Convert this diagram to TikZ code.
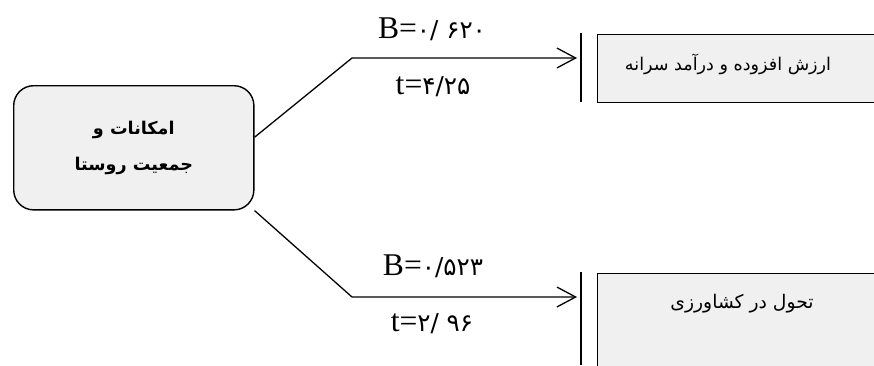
\documentclass[tikz,border=0pt]{standalone}
\usepackage{fontspec}
\setmainfont{Liberation Serif}
\newfontfamily\farsi[Script=Arabic]{DejaVu Sans}
\newfontfamily\fadigits{DejaVu Sans}
\TeXXeTstate=1
\usetikzlibrary{arrows.meta}
\newcommand{\fanum}[1]{{\fontsize{21}{24}\fadigits #1}}

\begin{document}
\begin{tikzpicture}[x=0.03cm, y=0.03cm]
\tikzstyle{every node}+=[inner sep=0pt]
\tikzstyle{srcbox}=[draw=black, line width=1.2pt, fill=gray!12, rounded corners=17pt, minimum width=205pt, minimum height=106pt, align=center, font=\fontsize{15}{30.7}\selectfont\farsi\bfseries]
\tikzstyle{outbox}=[draw=black, line width=1.2pt, fill=gray!12, minimum width=260pt]
\tikzstyle{link}=[draw=black, line width=1.1pt, -{Straight Barb[length=16pt,width=17pt,line width=1.1pt]}]
\tikzstyle{coef}=[font=\fontsize{27}{30}\selectfont]
\clip (0,0) rectangle (874,-365);
\node [srcbox, anchor=north west] (src) at (13,-85) {\beginR امکانات و\endR\\\beginR جمعیت روستا\endR};
\node [outbox, anchor=north west, minimum height=58pt] (val) at (597,-34) {};
\node (valtext) at (728,-64) {\fontsize{15}{18}\farsi\beginR ارزش افزوده و درآمد سرانه\endR};
\node [outbox, anchor=north west, minimum height=100pt] (agr) at (597,-273) {};
\node (agrtext) at (742,-304) {\fontsize{16}{18}\farsi\beginR تحول در کشاورزی\endR};
\draw [black, line width=1.1pt] (581,-33) -- (581,-102);
\draw [black, line width=1.1pt] (581,-272) -- (581,-365);
\coordinate (valbend) at (352,-58);
\coordinate (valin) at (577,-58);
\coordinate (agrbend) at (352,-297);
\coordinate (agrin) at (577,-297);
\draw [link] (src.5) -- (valbend) -- (valin);
\draw [link] (src.south east) -- (agrbend) -- (agrin);
\node [coef] (bval) at (432,-29) {B=\fanum{۰/ ۶۲۰}};
\node [coef] (tval) at (433,-87) {t=\fanum{۴/۲۵}};
\node [coef] (bagr) at (433,-266) {B=\fanum{۰/۵۲۳}};
\node [coef] (tagr) at (432,-324) {t=\fanum{۲/ ۹۶}};
\end{tikzpicture}
\end{document}
